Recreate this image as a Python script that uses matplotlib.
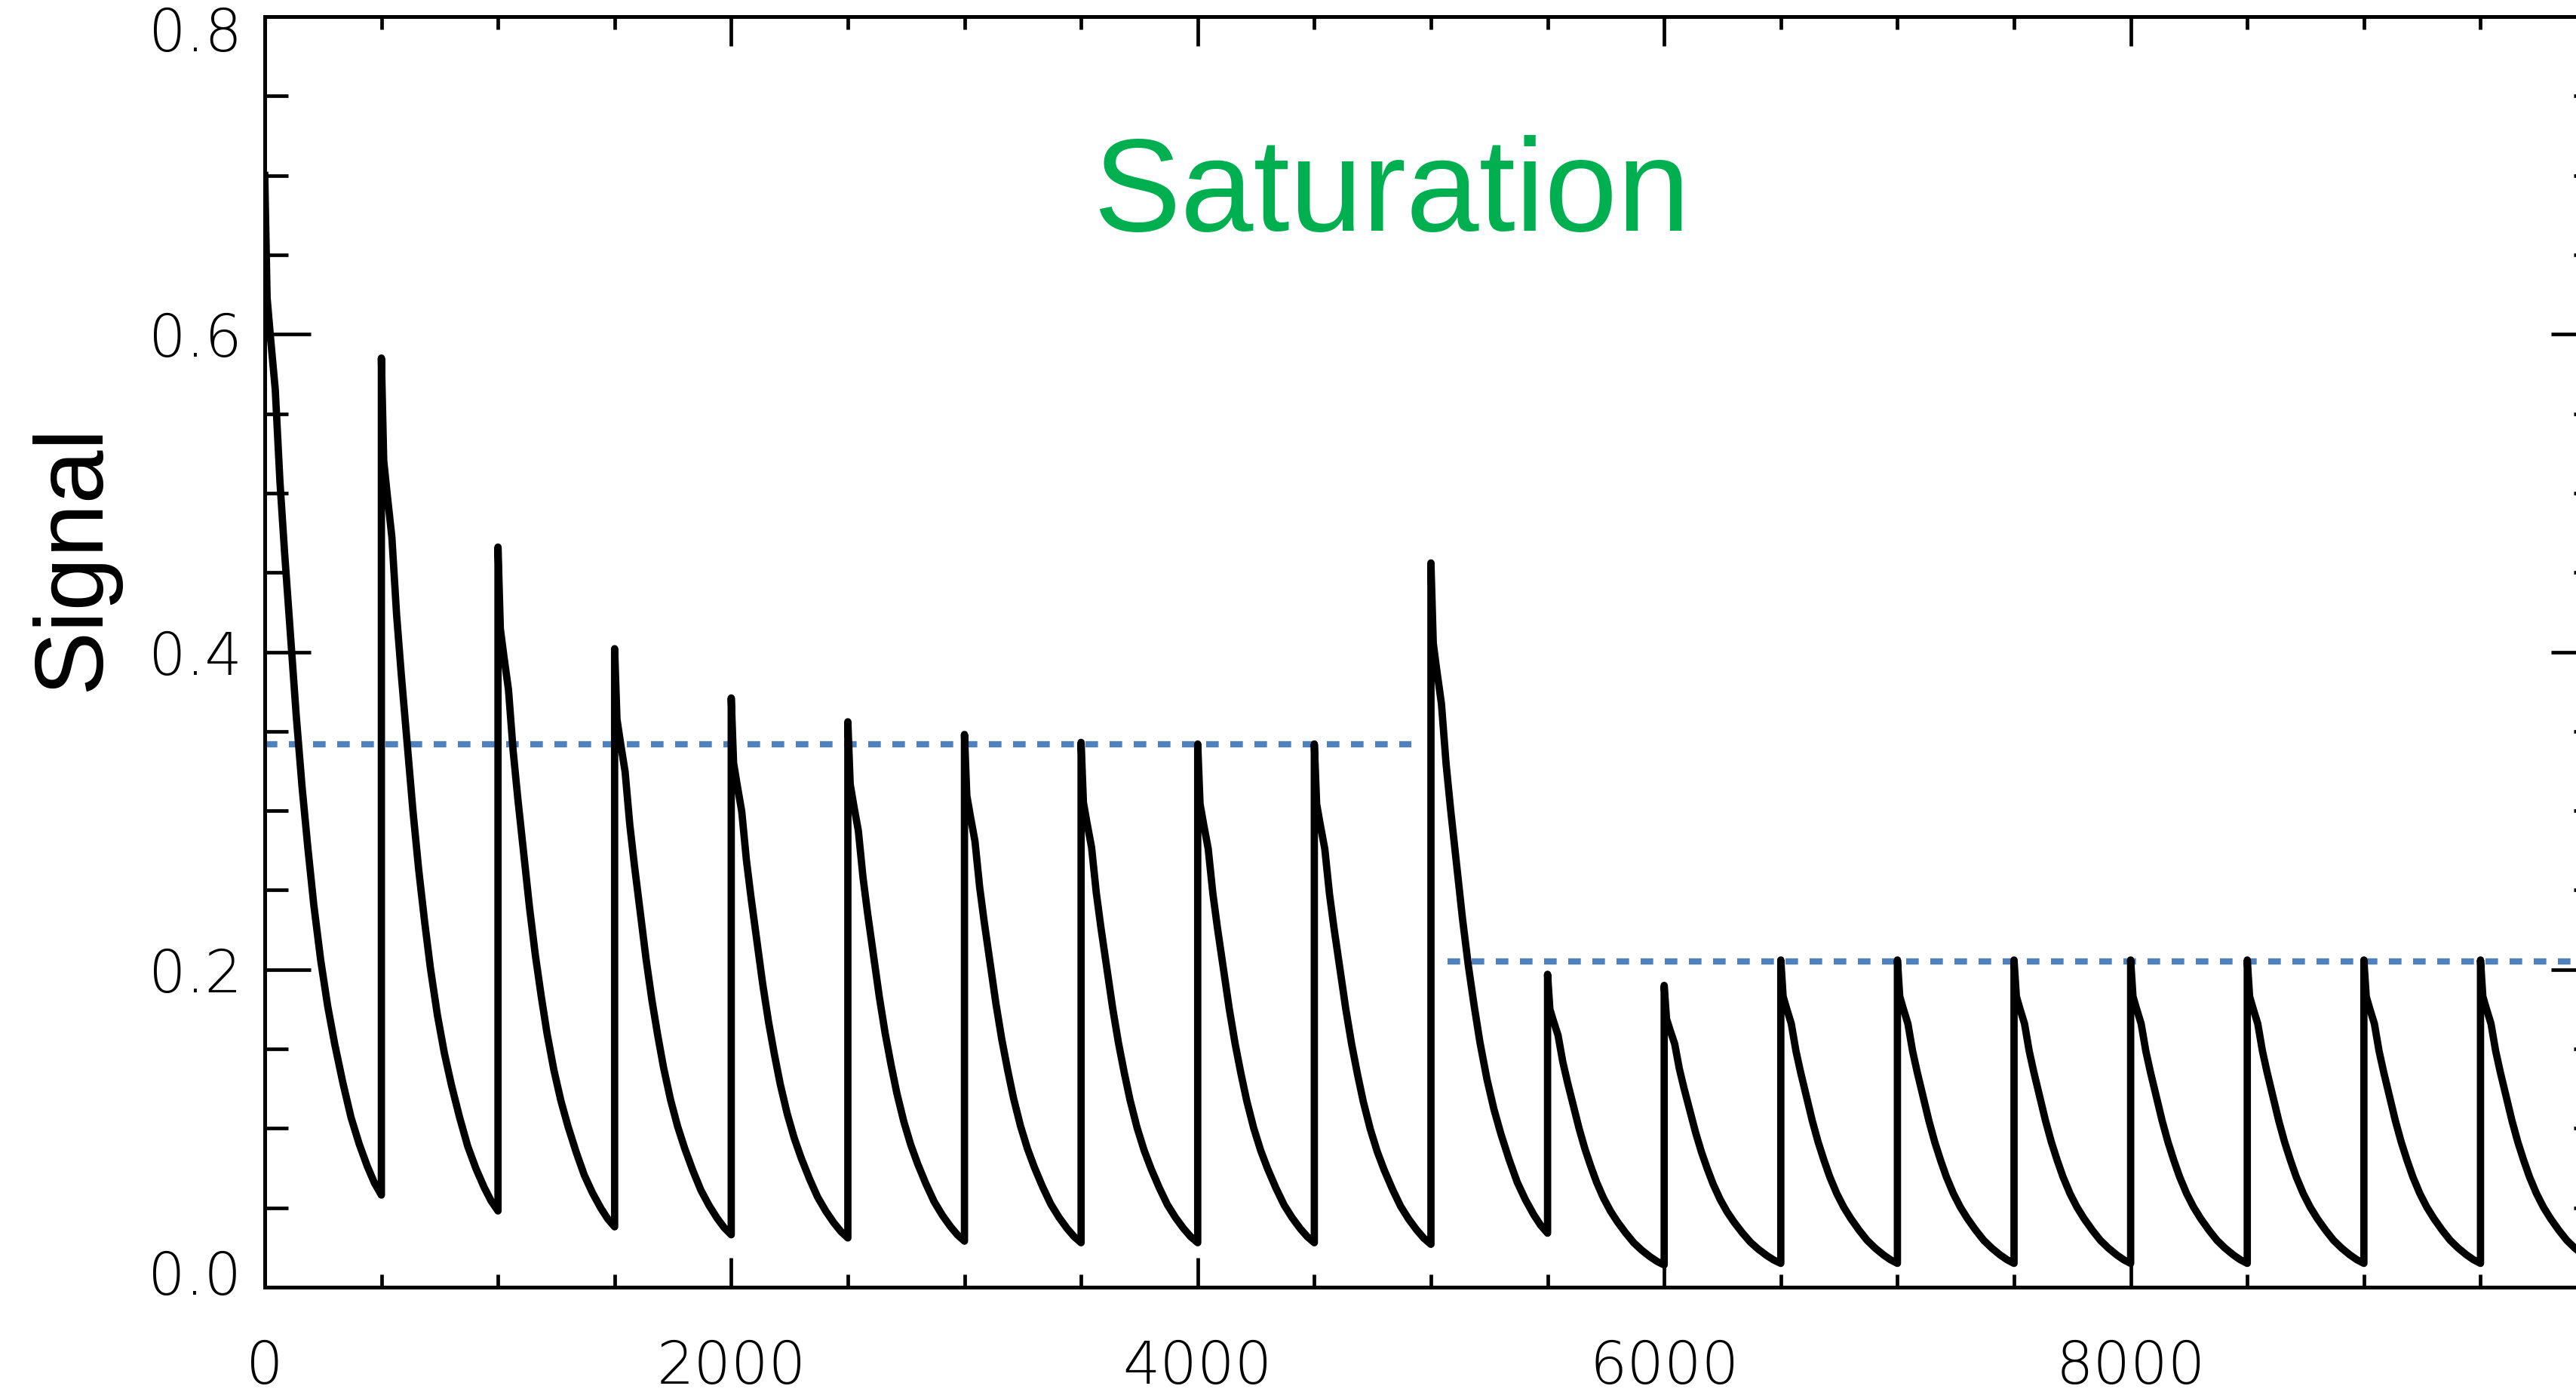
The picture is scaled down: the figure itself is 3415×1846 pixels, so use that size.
import numpy as np
import matplotlib
matplotlib.use("Agg")
import matplotlib.pyplot as plt
from matplotlib.ticker import MultipleLocator
from matplotlib.transforms import ScaledTranslation

# signal is reset every 500 units, then decays
period = 500
peaks = [0.700, 0.585, 0.466, 0.402, 0.371, 0.356, 0.348, 0.343, 0.342, 0.342,
         0.456, 0.197, 0.190, 0.206, 0.206, 0.206, 0.206, 0.206, 0.206, 0.206]
troughs = [0.058, 0.048, 0.038, 0.033, 0.031, 0.029, 0.028, 0.028, 0.028, 0.027,
           0.034, 0.014, 0.015, 0.015, 0.015, 0.015, 0.015, 0.015, 0.015, 0.015]

decay_t = [0, 10, 25, 45, 65, 85, 110, 135, 160, 185, 210, 240, 270, 300,
           335, 370, 405, 440, 470, 500]
decay_f = [1.0, 0.88, 0.84, 0.79, 0.70, 0.63, 0.55, 0.47, 0.40, 0.34, 0.285,
           0.23, 0.185, 0.148, 0.11, 0.076, 0.05, 0.028, 0.012, 0.0]

# steady-state (saturation) levels shown as dashed lines
sat_levels = [0.342, 0.205]
sat_start = [0, 5070]
sat_end = [4915, 10000]

xtick_vals = [0, 2000, 4000, 6000, 8000, 10000]
xtick_labels = ['0', '2000', '4000', '6000', '8000', '']
ytick_vals = [0.0, 0.2, 0.4, 0.6, 0.8]
ytick_labels = ['0.0', '0.2', '0.4', '0.6', '0.8']

xs, ys = [], []
for k, (p, tr) in enumerate(zip(peaks, troughs)):
    for t, f in zip(decay_t, decay_f):
        xs.append(k * period + t)
        ys.append(tr + (p - tr) * f)

fig = plt.figure(figsize=(34.15, 18.46), dpi=100)
ax = fig.add_axes([351 / 3415, 139 / 1846, 3092 / 3415, 1685 / 1846])

ax.plot(xs, ys, color='black', lw=7, solid_joinstyle='round', zorder=3)

for lvl, x0, x1 in zip(sat_levels, sat_start, sat_end):
    ax.plot([x0, x1], [lvl, lvl], color='#4F81BD', lw=6, dashes=(2.0, 1.84), zorder=2)

ax.set_xlim(0, 10000)
ax.set_ylim(0, 0.8)

ax.set_xticks(xtick_vals, xtick_labels)
ax.set_yticks(ytick_vals, ytick_labels)
ax.xaxis.set_minor_locator(MultipleLocator(500))
ax.yaxis.set_minor_locator(MultipleLocator(0.05))

for s in ax.spines.values():
    s.set_linewidth(3.6)

ax.tick_params(axis='x', which='major', direction='in', length=28, width=3.4,
               top=True, bottom=True, pad=49, labelsize=56)
ax.tick_params(axis='x', which='minor', direction='in', length=12, width=3.4,
               top=True, bottom=True)
ax.tick_params(axis='y', which='major', direction='in', length=44, width=3.4,
               left=True, right=True, pad=22, labelsize=56)
ax.tick_params(axis='y', which='minor', direction='in', length=22, width=3.4,
               left=True, right=True)

for lab in ax.get_xticklabels() + ax.get_yticklabels():
    lab.set_fontweight('light')

# end labels of the y axis sit a little inside the range
yticks = ax.yaxis.get_major_ticks()
lo, hi = yticks[0].label1, yticks[-1].label1
lo.set_transform(lo.get_transform() + ScaledTranslation(0, 0.2, fig.dpi_scale_trans))
hi.set_transform(hi.get_transform() + ScaledTranslation(0, -0.16, fig.dpi_scale_trans))

ax.text(4831, 0.687, 'Saturation', color='#00B050', fontsize=125,
        family='Liberation Sans', ha='center', va='center')

fig.text(98 / 3415, 1 - 740 / 1846, 'Signal', rotation=90, fontsize=92,
         family='Liberation Sans', ha='center', va='center')

fig.savefig('out.png', dpi=100)
